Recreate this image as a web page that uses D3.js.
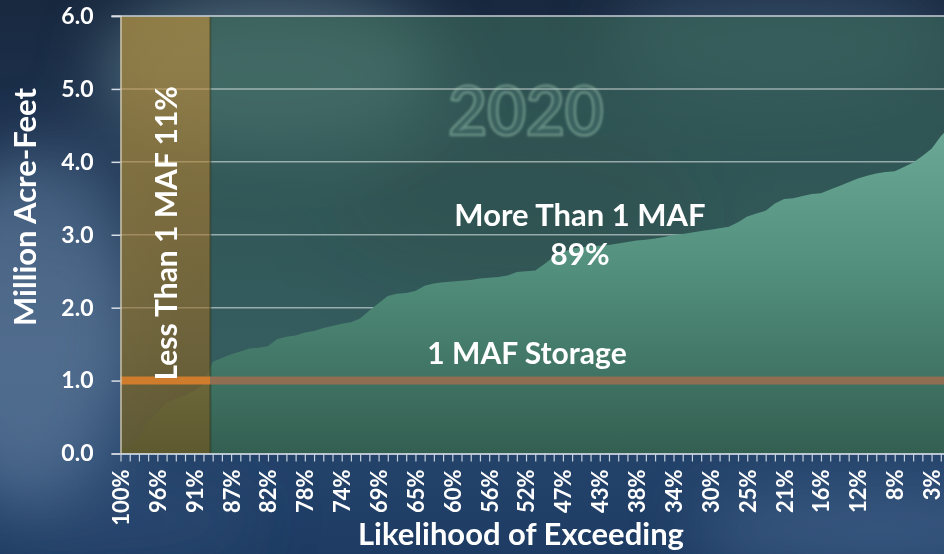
<!DOCTYPE html>
<html>
<head>
<meta charset="utf-8">
<script src="https://cdn.jsdelivr.net/npm/d3@7"></script>
<style>
  html, body { margin: 0; padding: 0; background: #1f3656; overflow: hidden; }
  svg { display: block; font-family: Lato, "Open Sans", "DejaVu Sans", sans-serif; }
</style>
</head>
<body>
<svg id="chart" width="944" height="554"></svg>
<script>
// Storage (million acre-feet) ranked from most to least likely to be exceeded, 2020 conditions
const storage = [
  0.07, 0.10, 0.22, 0.45, 0.56, 0.70, 0.75, 0.80, 0.86, 0.95,
  1.26, 1.31, 1.36, 1.40, 1.44, 1.45, 1.47, 1.57, 1.60, 1.62,
  1.66, 1.68, 1.72, 1.75, 1.78, 1.80, 1.85, 1.96, 2.06, 2.16,
  2.19, 2.20, 2.23, 2.30, 2.33, 2.35, 2.36, 2.37, 2.38, 2.40,
  2.41, 2.42, 2.44, 2.49, 2.50, 2.51, 2.60, 2.70, 2.76, 2.81,
  2.83, 2.84, 2.85, 2.86, 2.88, 2.90, 2.92, 2.93, 2.95, 2.97,
  3.00, 3.01, 3.03, 3.05, 3.07, 3.09, 3.11, 3.17, 3.25, 3.29,
  3.33, 3.43, 3.49, 3.50, 3.53, 3.56, 3.57, 3.62, 3.67, 3.72,
  3.77, 3.81, 3.84, 3.86, 3.87, 3.93, 3.99, 4.08, 4.18, 4.35,
  4.48
];

// Exceedance labels shown on every fourth ranked year
const tickLabels = [
  "100%", "96%", "91%", "87%", "82%", "78%", "74%", "69%", "65%", "60%", "56%", "52%",
  "47%", "43%", "38%", "34%", "30%", "25%", "21%", "16%", "12%", "8%", "3%"
];
const labelEvery = 4;

const yTicks = [0, 1, 2, 3, 4, 5, 6];
const storageTarget = 1.0;          // 1 MAF storage line
const lessShare = "11%";
const moreShare = "89%";
const yearLabel = "2020";

const W = 944, H = 554;
const plot = { left: 120.5, right: 950, top: 16, bottom: 453.5 };

const svg = d3.select("#chart");
const defs = svg.append("defs");

const x = d3.scaleLinear().domain([0, storage.length - 1]).range([plot.left, plot.right]);
const y = d3.scaleLinear().domain([0, 6]).range([plot.bottom, plot.top]);

// first ranked year that stays above the 1 MAF line
const firstAbove = storage.findIndex(v => v >= storageTarget);
const splitX = x(firstAbove - 0.25);

// ---------- gradients & filters ----------
const bg = defs.append("linearGradient").attr("id", "bgGrad")
  .attr("x1", 0).attr("y1", 0).attr("x2", 0).attr("y2", 1);
[[0, "#18283f"], [0.3, "#1f3553"], [0.62, "#2a4668"], [0.85, "#23426a"], [1, "#1e3c63"]]
  .forEach(([o, c]) => bg.append("stop").attr("offset", o).attr("stop-color", c));

defs.append("filter").attr("id", "cloud").attr("x", "-50%").attr("y", "-50%")
  .attr("width", "200%").attr("height", "200%")
  .append("feGaussianBlur").attr("stdDeviation", 32);

defs.append("filter").attr("id", "soft").append("feGaussianBlur").attr("stdDeviation", 0.9);

const areaGrad = defs.append("linearGradient").attr("id", "areaGrad")
  .attr("gradientUnits", "userSpaceOnUse")
  .attr("x1", 0).attr("x2", 0).attr("y1", y(4.6)).attr("y2", y(0));
[[0, "#6dab98"], [0.45, "#528f7c"], [1, "#335f51"]]
  .forEach(([o, c]) => areaGrad.append("stop").attr("offset", o).attr("stop-color", c));

const tanGrad = defs.append("linearGradient").attr("id", "tanGrad")
  .attr("x1", 0).attr("x2", 0).attr("y1", 0).attr("y2", 1);
[[0, "#c9913a"], [0.5, "#a8762c"], [1, "#7a5518"]]
  .forEach(([o, c]) => tanGrad.append("stop").attr("offset", o).attr("stop-color", c));

// storage line: bright over the dry band, muted across the rest
const lineGrad = defs.append("linearGradient").attr("id", "lineGrad")
  .attr("gradientUnits", "userSpaceOnUse")
  .attr("x1", plot.left).attr("x2", W).attr("y1", 0).attr("y2", 0);
const splitOff = (splitX - plot.left) / (W - plot.left);
[[0, "#cf7c2c"], [splitOff, "#cf7c2c"], [splitOff, "#8f6e52"], [1, "#8f6e52"]]
  .forEach(([o, c]) => lineGrad.append("stop").attr("offset", o).attr("stop-color", c));

// ---------- background ----------
svg.append("rect").attr("width", W).attr("height", H).attr("fill", "url(#bgGrad)");
const clouds = svg.append("g").attr("filter", "url(#cloud)");
[
  { cx: 25, cy: 330, rx: 110, ry: 170, c: "#6d8bab", o: 0.55 },
  { cx: 60, cy: 200, rx: 70, ry: 60, c: "#3f5c7e", o: 0.5 },
  { cx: 270, cy: 70, rx: 170, ry: 80, c: "#86aab2", o: 0.45 },
  { cx: 780, cy: 40, rx: 170, ry: 60, c: "#5d7d98", o: 0.35 },
  { cx: 520, cy: 210, rx: 190, ry: 80, c: "#0f2035", o: 0.45 },
  { cx: 880, cy: 530, rx: 190, ry: 45, c: "#5777a0", o: 0.45 },
  { cx: 120, cy: 520, rx: 140, ry: 40, c: "#34557d", o: 0.4 }
].forEach(d => clouds.append("ellipse")
  .attr("cx", d.cx).attr("cy", d.cy).attr("rx", d.rx).attr("ry", d.ry)
  .attr("fill", d.c).attr("opacity", d.o));

// plot panel tint
svg.append("rect")
  .attr("x", plot.left).attr("y", plot.top + 0.5)
  .attr("width", W - plot.left).attr("height", plot.bottom - plot.top - 0.5)
  .attr("fill", "#3b6a58").attr("opacity", 0.62);

// ---------- gridlines ----------
svg.append("g").selectAll("line")
  .data(yTicks.filter(v => v > 0 && v < 6))
  .join("line")
  .attr("x1", plot.left).attr("x2", W)
  .attr("y1", d => y(d)).attr("y2", d => y(d))
  .attr("stroke", "#ffffff").attr("stroke-opacity", 0.5).attr("stroke-width", 1.5);

// ---------- "2020" watermark ----------
svg.append("text")
  .attr("x", 526).attr("y", 135)
  .attr("text-anchor", "middle")
  .attr("font-size", 67).attr("font-weight", 700)
  .attr("fill", "#7fb0a0").attr("fill-opacity", 0.15)
  .attr("stroke", "#a9d2bd").attr("stroke-opacity", 0.42).attr("stroke-width", 2.5)
  .attr("filter", "url(#soft)")
  .text(yearLabel);

// ---------- storage area ----------
const area = d3.area()
  .x((d, i) => x(i))
  .y0(y(0))
  .y1(d => y(d));
svg.append("path")
  .datum(storage)
  .attr("d", area)
  .attr("fill", "url(#areaGrad)");

// ---------- dry-year band ----------
svg.append("rect")
  .attr("x", plot.left).attr("y", plot.top + 0.5)
  .attr("width", splitX - plot.left).attr("height", plot.bottom - plot.top - 0.5)
  .attr("fill", "url(#tanGrad)").attr("opacity", 0.6);
svg.append("line")
  .attr("x1", splitX).attr("x2", splitX)
  .attr("y1", plot.top + 0.5).attr("y2", plot.bottom)
  .attr("stroke", "#243322").attr("stroke-opacity", 0.45).attr("stroke-width", 2);

// ---------- 1 MAF storage line ----------
svg.append("line")
  .attr("x1", plot.left).attr("x2", W)
  .attr("y1", y(storageTarget)).attr("y2", y(storageTarget))
  .attr("stroke", "url(#lineGrad)").attr("stroke-width", 8);

// top border (6.0)
svg.append("line")
  .attr("x1", plot.left - 9).attr("x2", W)
  .attr("y1", y(6)).attr("y2", y(6))
  .attr("stroke", "#e6ecf0").attr("stroke-opacity", 0.85).attr("stroke-width", 1.5);

// ---------- axes ----------
const yAxis = svg.append("g")
  .attr("transform", `translate(${plot.left},0)`)
  .call(d3.axisLeft(y).tickValues(yTicks).tickFormat(d3.format(".1f")).tickSize(9).tickPadding(18));
yAxis.select(".domain").attr("stroke", "#d6d2c4").attr("stroke-opacity", 0.85).attr("stroke-width", 1.5);
yAxis.selectAll(".tick line").attr("stroke", "#d8dee6").attr("stroke-width", 1.5);
yAxis.selectAll(".tick text")
  .attr("fill", "#ffffff").attr("font-size", 23).attr("font-weight", 700)
  .attr("font-family", "Lato, 'Open Sans', sans-serif");

const xAxis = svg.append("g")
  .attr("transform", `translate(0,${plot.bottom})`)
  .call(d3.axisBottom(x)
    .tickValues(d3.range(storage.length))
    .tickSize(8)
    .tickSizeOuter(0)
    .tickFormat(i => i % labelEvery === 0 ? tickLabels[i / labelEvery] : ""));
xAxis.select(".domain").attr("stroke", "#e8eef4").attr("stroke-width", 1.5);
xAxis.selectAll(".tick line").attr("stroke", "#c6d1de").attr("stroke-width", 1.2);
xAxis.selectAll(".tick text")
  .attr("fill", "#ffffff").attr("font-size", 22).attr("font-weight", 700)
  .attr("font-family", "Lato, 'Open Sans', sans-serif")
  .attr("text-anchor", "end")
  .attr("transform", "rotate(-90)")
  .attr("x", -16).attr("y", 0).attr("dy", "0.36em");

// ---------- titles & annotations ----------
const label = (txt, attrs) => {
  const t = svg.append("text").text(txt)
    .attr("fill", "#ffffff").attr("font-weight", 700);
  Object.entries(attrs).forEach(([k, v]) => t.attr(k, v));
  return t;
};

label("Million Acre-Feet", {
  transform: "translate(36,207) rotate(-90)", "text-anchor": "middle", "font-size": 31
});
label("Likelihood of Exceeding", {
  x: 521, y: 545, "text-anchor": "middle", "font-size": 31
});
label(`Less Than 1 MAF ${lessShare}`, {
  transform: `translate(177,${y(storageTarget)}) rotate(-90)`, "text-anchor": "start", "font-size": 30
});
label("More Than 1 MAF", {
  x: 580, y: 226, "text-anchor": "middle", "font-size": 31
});
label(moreShare, {
  x: 580, y: 265, "text-anchor": "middle", "font-size": 30
});
label("1 MAF Storage", {
  x: 527, y: y(storageTarget) - 17, "text-anchor": "middle", "font-size": 30
});
</script>
</body>
</html>
